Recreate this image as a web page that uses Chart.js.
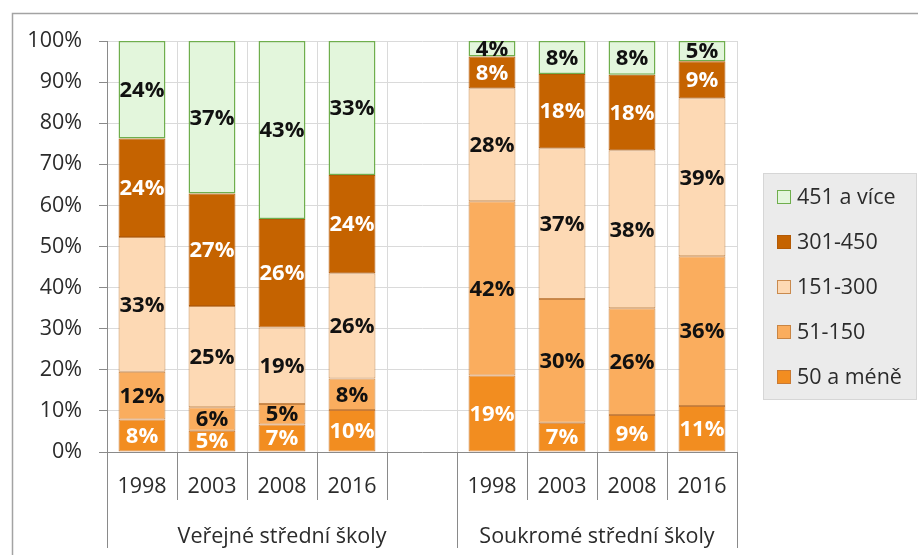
<!DOCTYPE html>
<html>
<head>
<meta charset="utf-8">
<script src="https://cdn.jsdelivr.net/npm/chart.js@4/dist/chart.umd.min.js"></script>
<style>
  html, body { margin: 0; padding: 0; background: #fff; }
  #wrap { width: 918px; height: 555px; position: relative; }
</style>
</head>
<body>
<div id="wrap"><canvas id="chart"></canvas></div>
<script>
  // categories (empty slot separates the two groups)
  var years = ["1998", "2003", "2008", "2016", "", "1998", "2003", "2008", "2016"];
  var groupNames = ["Veřejné střední školy", "Soukromé střední školy"];
  var groupStarts = [0, 5];
  var yTicks = [0, 10, 20, 30, 40, 50, 60, 70, 80, 90, 100];

  // shares in %, bottom segment first
  var v50 = [7.9, 5.2, 6.7, 10.2, null, 18.6, 7.1, 9.0, 11.2];
  var v51 = [11.6, 5.7, 5.0, 7.7, null, 42.4, 30.1, 26.0, 36.4];
  var v151 = [32.8, 24.6, 18.6, 25.6, null, 27.5, 36.7, 38.4, 38.5];
  var v301 = [24.0, 27.4, 26.4, 23.9, null, 7.7, 18.1, 18.4, 9.0];
  var v451 = [23.7, 37.1, 43.3, 32.6, null, 3.8, 8.0, 8.2, 4.9];

  var FONT = "'Open Sans', sans-serif";
  var TEXT = "#2b2b2b";
  var AXIS = "#8a8a8a";

  function series(label, data, bg, border, bw, labelColor) {
    return {
      label: label,
      data: data,
      backgroundColor: bg,
      borderColor: border,
      borderWidth: bw,
      borderSkipped: false,
      barPercentage: 0.67,
      categoryPercentage: 1,
      labelColor: labelColor,
    };
  }

  // draws the % values inside each segment
  var valueLabels = {
    id: "valueLabels",
    afterDatasetsDraw: function (chart) {
      var ctx = chart.ctx;
      ctx.save();
      ctx.font = "bold 22px " + FONT;
      ctx.textAlign = "center";
      ctx.textBaseline = "middle";
      chart.data.datasets.forEach(function (ds, i) {
        var meta = chart.getDatasetMeta(i);
        meta.data.forEach(function (bar, j) {
          var v = ds.data[j];
          if (v == null) return;
          ctx.fillStyle = ds.labelColor;
          ctx.fillText(Math.round(v) + "%", bar.x, (bar.y + bar.base) / 2 + 1);
        });
      });
      ctx.restore();
    },
  };

  // separators and group names under the axis, outer frame, legend box
  var decorations = {
    id: "decorations",
    afterDraw: function (chart) {
      var ctx = chart.ctx;
      var area = chart.chartArea;
      var n = years.length;
      var step = (area.right - area.left) / n;
      ctx.save();

      // frame
      ctx.strokeStyle = "#a3a3a3";
      ctx.lineWidth = 1.5;
      ctx.beginPath();
      ctx.moveTo(12.5, chart.height);
      ctx.lineTo(12.5, 13.5);
      ctx.lineTo(chart.width, 13.5);
      ctx.stroke();

      // category separators below the axis
      ctx.strokeStyle = AXIS;
      ctx.lineWidth = 1;
      for (var i = 0; i <= n; i++) {
        var px = Math.round(area.left + i * step) + 0.5;
        var edge = i === n || groupStarts.indexOf(i) >= 0;
        ctx.beginPath();
        ctx.moveTo(px, area.bottom);
        ctx.lineTo(px, area.bottom + (edge ? 96 : 48));
        ctx.stroke();
      }

      // group names
      ctx.fillStyle = TEXT;
      ctx.font = "21.5px " + FONT;
      ctx.textAlign = "center";
      ctx.textBaseline = "middle";
      groupNames.forEach(function (name, g) {
        var from = groupStarts[g];
        var to = g + 1 < groupStarts.length ? groupStarts[g + 1] : n;
        var cx = area.left + ((from + to) / 2) * step;
        ctx.fillText(name, cx, area.bottom + 85);
      });

      // legend
      var lx = area.right + 26, ly = 173, lw = 154, lh = 227;
      ctx.fillStyle = "#ebebeb";
      ctx.fillRect(lx, ly, lw, lh);
      ctx.strokeStyle = "#d6d6d6";
      ctx.strokeRect(lx + 0.5, ly + 0.5, lw - 1, lh - 1);
      ctx.textAlign = "left";
      var items = chart.data.datasets.slice().reverse();
      items.forEach(function (ds, k) {
        var cy = ly + 24 + k * 45;
        ctx.fillStyle = ds.backgroundColor;
        ctx.fillRect(lx + 14, cy - 7, 14, 14);
        ctx.strokeStyle = ds.borderColor;
        ctx.lineWidth = 1;
        ctx.strokeRect(lx + 14.5, cy - 6.5, 13, 13);
        ctx.fillStyle = TEXT;
        ctx.fillText(ds.label, lx + 34, cy + 1);
      });

      ctx.restore();
    },
  };

  var ctx = document.getElementById("chart").getContext("2d");
  var chart = new Chart(ctx, {
    type: "bar",
    data: {
      labels: years,
      datasets: [
        series("50 a méně", v50, "#f28d20", "#c97a34", 1, "#ffffff"),
        series("51-150", v51, "#faad5e", "#c98544", 1, "#111111"),
        series("151-300", v151, "#fdd9b4", "#c98a4e", 1, "#111111"),
        series("301-450", v301, "#c56300", "#b35a06", 1, "#ffffff"),
        series("451 a více", v451, "#e3f6dc", "#6fae4d", 1.5, "#111111"),
      ],
    },
    options: {
      responsive: true,
      maintainAspectRatio: false,
      animation: false,
      layout: { padding: { top: 41, left: 0, right: 181, bottom: 0 } },
      plugins: {
        legend: { display: false },
        tooltip: { enabled: false },
      },
      scales: {
        x: {
          stacked: true,
          afterFit: function (s) { s.height = 103; },
          grid: { color: "#dadada", offset: true, drawTicks: false },
          border: { color: AXIS, width: 1 },
          ticks: { color: TEXT, font: { family: FONT, size: 21.5 }, padding: 22, maxRotation: 0, autoSkip: false },
        },
        y: {
          stacked: true,
          min: 0,
          max: 100,
          afterFit: function (s) { s.width = 107; },
          afterBuildTicks: function (s) {
            s.ticks = yTicks.map(function (v) { return { value: v }; });
          },
          grid: { color: "#dadada", tickLength: 8, tickColor: AXIS },
          border: { color: AXIS, width: 1 },
          ticks: {
            color: TEXT,
            font: { family: FONT, size: 21.5 },
            padding: 17,
            callback: function (v) { return v + "%"; },
          },
        },
      },
    },
    plugins: [valueLabels, decorations],
  });
</script>
</body>
</html>
